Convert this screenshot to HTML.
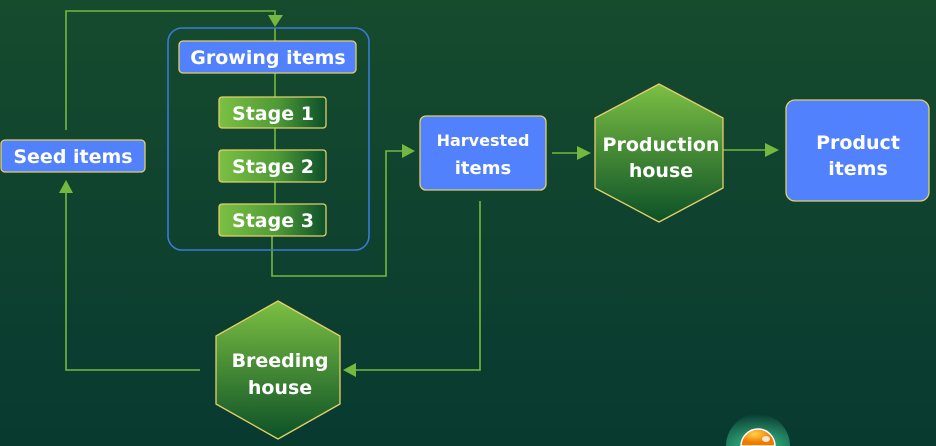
<!DOCTYPE html>
<html><head><meta charset="utf-8"><style>
html,body{margin:0;padding:0;width:936px;height:446px;overflow:hidden;background:#0e3f2f}
svg{display:block}
text{font-family:"DejaVu Sans","Liberation Sans",sans-serif;font-weight:bold;fill:#fff;text-anchor:middle}
</style></head><body>
<svg width="936" height="446" viewBox="0 0 936 446" xmlns="http://www.w3.org/2000/svg">
<defs>
<linearGradient id="bg" x1="0" y1="0" x2="0" y2="1"><stop offset="0" stop-color="#164b2e"/><stop offset="1" stop-color="#083a30"/></linearGradient>
<linearGradient id="hex" x1="0" y1="0" x2="0" y2="1"><stop offset="0" stop-color="#7cc043"/><stop offset="1" stop-color="#0c5127"/></linearGradient>
<linearGradient id="stg" x1="0" y1="0" x2="1" y2="0"><stop offset="0" stop-color="#7cc043"/><stop offset="0.55" stop-color="#4e9a36"/><stop offset="1" stop-color="#0b4f2a"/></linearGradient>
<radialGradient id="glow" cx="0.5" cy="1" r="1"><stop offset="0" stop-color="#3fd39a" stop-opacity="0.9"/><stop offset="1" stop-color="#3fd39a" stop-opacity="0"/></radialGradient>
<radialGradient id="ball" cx="0.4" cy="0.3"><stop offset="0" stop-color="#ffd24a"/><stop offset="1" stop-color="#f07a00"/></radialGradient>
</defs>
<rect width="936" height="446" fill="url(#bg)"/>
<g stroke="#76b83f" stroke-width="1.6" fill="none">
<polyline points="66,130 66,11 275,11 275,20"/>
<polyline points="200,370 66,370 66,190"/>
<line x1="275" y1="28" x2="275" y2="236"/>
<polyline points="272,236 272,276 386,276 386,151 405,151"/>
<polyline points="480,201 480,370 352,370"/>
<line x1="552" y1="153" x2="582" y2="153"/>
<line x1="723" y1="150" x2="768" y2="150"/>
</g>
<g fill="#76b83f">
<polygon points="268,15 283,15 275,27"/>
<polygon points="59,193 73,193 66,180"/>
<polygon points="402,144 402,158 415,151"/>
<polygon points="356,363 356,377 343,370"/>
<polygon points="577,146 577,160 591,153"/>
<polygon points="765,143 765,157 779,150"/>
</g>
<rect x="168" y="28" width="201" height="222" rx="14" fill="none" stroke="#3d79d6" stroke-width="1.6"/>
<g stroke="#e4cf6a" stroke-width="1.3">
<rect x="1" y="140" width="144" height="32" rx="4" fill="#5181fc"/>
<rect x="179" y="41" width="177" height="32" rx="4" fill="#5181fc"/>
<rect x="219" y="97" width="107" height="31" rx="3" fill="url(#stg)"/>
<rect x="219" y="150" width="107" height="32" rx="3" fill="url(#stg)"/>
<rect x="219" y="204" width="107" height="32" rx="3" fill="url(#stg)"/>
<rect x="420" y="116" width="126" height="74" rx="6" fill="#5181fc"/>
<rect x="786" y="100" width="143" height="101" rx="9" fill="#5181fc"/>
<polygon points="659,84 723,118 723,188 659,222 595,188 595,118" fill="url(#hex)" stroke-linejoin="round"/>
<polygon points="278,301 340,336 340,404 278,439 216,404 216,336" fill="url(#hex)" stroke-linejoin="round"/>
</g>
<text x="73" y="163" font-size="19">Seed items</text>
<text x="268" y="64" font-size="19">Growing items</text>
<text x="273" y="120" font-size="19">Stage 1</text>
<text x="273" y="173" font-size="19">Stage 2</text>
<text x="273" y="227" font-size="19">Stage 3</text>
<text x="483" y="146" font-size="16">Harvested</text>
<text x="483" y="174" font-size="18">items</text>
<text x="661" y="151" font-size="19">Production</text>
<text x="661" y="177" font-size="19">house</text>
<text x="858" y="149" font-size="19">Product</text>
<text x="858" y="175" font-size="19">items</text>
<text x="280" y="367" font-size="19">Breeding</text>
<text x="280" y="394" font-size="19">house</text>
<path d="M726,446 A32,32 0 0 1 790,446 Z" fill="url(#glow)"/>
<path d="M741,446 A17,17 0 0 1 775,446 Z" fill="url(#ball)" stroke="#fff" stroke-width="1.5"/>
<ellipse cx="766" cy="439" rx="4" ry="3" fill="#fff" opacity="0.8"/>
</svg>
</body></html>
